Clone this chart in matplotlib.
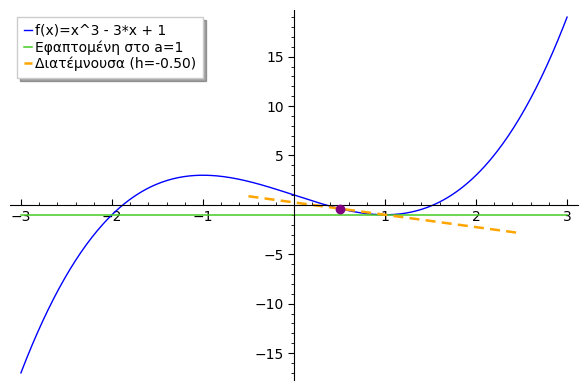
import numpy as np
import matplotlib.pyplot as plt
from matplotlib.ticker import MultipleLocator

# function shown in the legend and the chosen points
coef = [1, 0, -3, 1]          # x^3 - 3x + 1
x_range = [-3, 3]
a = 1.0
h = -0.5
secant_range = [-0.5, 2.5]

f = np.poly1d(coef)
df = f.deriv()

x = np.linspace(x_range[0], x_range[1], 400)
fa = f(a)
slope_sec = (f(a + h) - f(a)) / h
xs = np.linspace(secant_range[0], secant_range[1], 50)

fig = plt.figure(figsize=[5.88, 3.9], dpi=100)
ax = fig.add_axes([10/588, 10/390, 568/588, 370/390])

ax.plot(x, f(x), color='blue', linewidth=1, label='f(x)=x^3 - 3*x + 1')
ax.plot(x, fa + df(a) * (x - a), color='#44cc22', linewidth=1.1,
        label='Εφαπτομένη στο a=1')
ax.plot(xs, fa + slope_sec * (xs - a), color='orange', linestyle='--',
        linewidth=1.8, dashes=(4, 2.5), label='Διατέμνουσα (h=-0.50)')
ax.plot([a + h], [f(a + h)], 'o', color='purple', markersize=6, zorder=5)

ax.set_xlim(-3.12, 3.12)
ax.set_ylim(-17.72, 19.72)

for s in ['top', 'right']:
    ax.spines[s].set_visible(False)
ax.spines['left'].set_position(('data', 0))
ax.spines['bottom'].set_position(('data', 0))

ax.xaxis.set_major_locator(MultipleLocator(1))
ax.xaxis.set_minor_locator(MultipleLocator(0.2))
ax.yaxis.set_major_locator(MultipleLocator(5))
ax.yaxis.set_minor_locator(MultipleLocator(1))
ax.xaxis.set_tick_params(which='major', direction='in', length=4, labelsize=10)
ax.xaxis.set_tick_params(which='minor', direction='in', length=2)
ax.yaxis.set_tick_params(which='major', direction='out', length=4, labelsize=10)
ax.yaxis.set_tick_params(which='minor', direction='out', length=2)

xt = [-3, -2, -1, 1, 2, 3]
yt = [-15, -10, -5, 5, 10, 15]
ax.set_xticks(xt)
ax.set_xticklabels(['\u2212' + str(-v) if v < 0 else str(v) for v in xt])
ax.set_yticks(yt)
ax.set_yticklabels(['\u2212' + str(-v) if v < 0 else str(v) for v in yt])

leg = ax.legend(loc='upper left', bbox_to_anchor=(7/568, 1 - 7/370),
                borderaxespad=0, fancybox=False, shadow=True,
                handlelength=0.6, handletextpad=0.2, labelspacing=0.15,
                borderpad=0.5, fontsize=10, framealpha=1)
leg.get_frame().set_edgecolor('#cccccc')

plt.savefig('out.png', dpi=100)
